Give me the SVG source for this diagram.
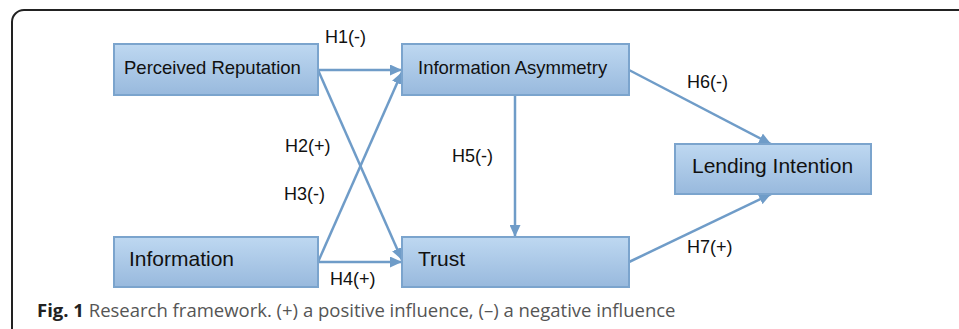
<svg xmlns="http://www.w3.org/2000/svg" width="959" height="329" viewBox="0 0 959 329">
<defs>
<linearGradient id="bg" x1="0" y1="0" x2="0" y2="1">
<stop offset="0" stop-color="#bed8f1"/>
<stop offset="1" stop-color="#98b9dd"/>
</linearGradient>
<marker id="ah" markerUnits="userSpaceOnUse" markerWidth="12" markerHeight="11" refX="12" refY="5.5" orient="auto">
<path d="M0,0 L12,5.5 L0,11 z" fill="#6f9cc8"/>
</marker>
<style>
.box{fill:url(#bg);stroke:#7ba4cd;stroke-width:2}
.bt{font-family:"Liberation Sans",Arial,sans-serif;fill:#111}
.lbl{font-family:"Liberation Sans",Arial,sans-serif;font-size:18px;fill:#111}
.edge{stroke:#6f9cc8;stroke-width:2.5;fill:none;marker-end:url(#ah)}
.cap{font-family:"Open Sans","Noto Sans",sans-serif;font-size:18.5px;fill:#555}
</style>
</defs>
<rect x="0" y="0" width="959" height="329" fill="#fff"/>
<rect x="12" y="10" width="1000" height="400" rx="12" fill="none" stroke="#222" stroke-width="2"/>
<g id="connectors">
<path class="edge" d="M318,70 L402,70"/>
<path class="edge" d="M318,70 L402,260"/>
<path class="edge" d="M318,262 L402,72"/>
<path class="edge" d="M318,262 L402,262"/>
<path class="edge" d="M515,95 L515,237"/>
<path class="edge" d="M629,70 L771,144"/>
<path class="edge" d="M629,262 L771,194"/>
</g>
<g id="labels">
<text class="lbl" x="325" y="43">H1(-)</text>
<text class="lbl" x="285" y="152">H2(+)</text>
<text class="lbl" x="284" y="200">H3(-)</text>
<text class="lbl" x="330" y="285">H4(+)</text>
<text class="lbl" x="452" y="162">H5(-)</text>
<text class="lbl" x="687" y="88">H6(-)</text>
<text class="lbl" x="687" y="253">H7(+)</text>
</g>
<g id="perceived-reputation">
<rect class="box" x="114" y="44" width="204" height="51"/>
<text class="bt" x="124" y="73.5" font-size="18.5">Perceived Reputation</text>
</g>
<g id="information-asymmetry">
<rect class="box" x="402" y="44" width="227" height="51"/>
<text class="bt" x="418" y="73.5" font-size="18.5">Information Asymmetry</text>
</g>
<g id="lending-intention">
<rect class="box" x="675" y="144" width="196" height="50"/>
<text class="bt" x="692" y="172.5" font-size="21">Lending Intention</text>
</g>
<g id="information">
<rect class="box" x="114" y="237" width="204" height="50"/>
<text class="bt" x="129" y="265.5" font-size="21">Information</text>
</g>
<g id="trust">
<rect class="box" x="402" y="237" width="227" height="50"/>
<text class="bt" x="418" y="265.5" font-size="21">Trust</text>
</g>
<text class="cap" x="37" y="317"><tspan font-weight="bold" fill="#222">Fig. 1</tspan> Research framework. (+) a positive influence, (–) a negative influence</text>
</svg>
